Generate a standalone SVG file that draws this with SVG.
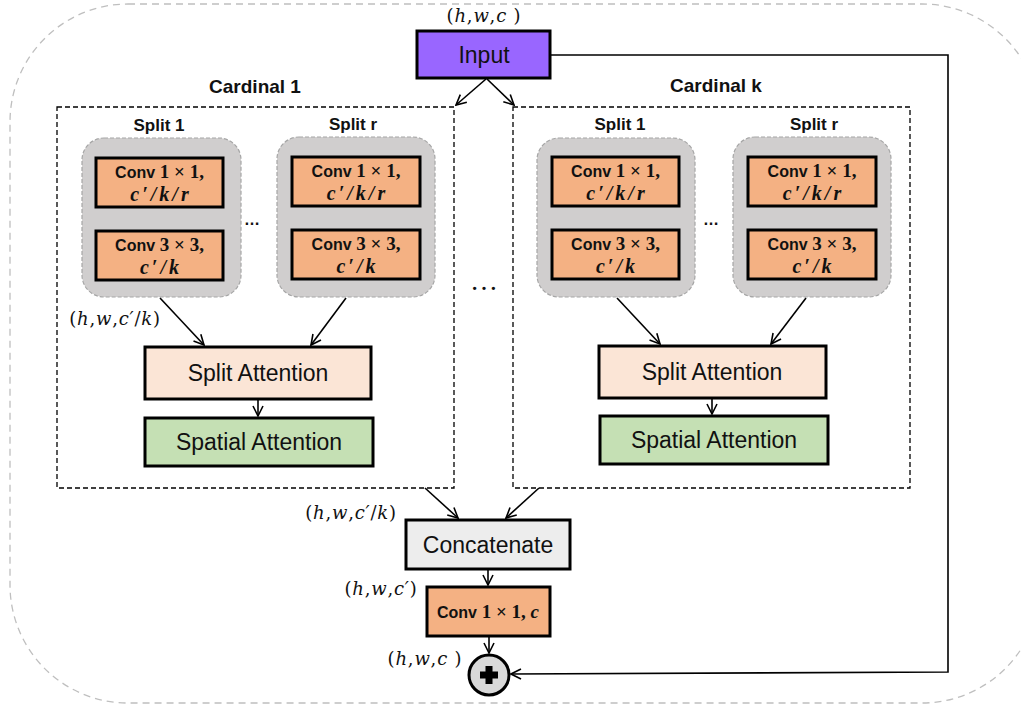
<svg xmlns="http://www.w3.org/2000/svg" width="1021" height="706" viewBox="0 0 1021 706">
  <style>
    .box { stroke: #000; stroke-width: 3; }
    .input { fill: #9966FF; }
    .conv { fill: #F4B183; }
    .sa { fill: #FBE5D6; }
    .spa { fill: #C5E0B4; }
    .cat { fill: #EDEDED; }
    .split { fill: #D0CECE; stroke: #A6A6A6; stroke-width: 1.2; stroke-dasharray: 4 2; }
    .card { fill: none; stroke: #000; stroke-width: 1.3; stroke-dasharray: 5 3; }
    .outer { fill: none; stroke: #BFBFBF; stroke-width: 1.3; stroke-dasharray: 7 5; }
    .lbl { font-family: "Liberation Sans", Arial, sans-serif; font-size: 23px; fill: #111; text-anchor: middle; }
    .title { font-family: "Liberation Sans", Arial, sans-serif; font-size: 19px; font-weight: bold; fill: #111; text-anchor: middle; }
    .stitle { font-family: "Liberation Sans", Arial, sans-serif; font-size: 17px; font-weight: bold; fill: #111; text-anchor: middle; }
    .cv { font-family: "Liberation Sans", Arial, sans-serif; font-size: 16px; font-weight: bold; fill: #111; text-anchor: middle; }
    .num { font-family: "Liberation Serif", "Times New Roman", serif; font-size: 19px; font-weight: bold; }
    .var { font-family: "Liberation Serif", "Times New Roman", serif; font-size: 20px; font-weight: bold; font-style: italic; fill: #111; text-anchor: middle; letter-spacing: 3px; }
    .math { font-family: "DejaVu Serif", serif; font-size: 18px; fill: #111; text-anchor: middle; letter-spacing: 0.8px; }
    .it { font-style: italic; }
    .line { fill: none; stroke: #000; stroke-width: 1.6; }
    .dots { font-family: "Liberation Sans", Arial, sans-serif; font-size: 16px; font-weight: bold; fill: #111; text-anchor: middle; }
  </style>
  <defs>
    <marker id="arrow" viewBox="0 0 12 12" refX="11" refY="6" markerWidth="12" markerHeight="12" markerUnits="userSpaceOnUse" orient="auto">
      <path d="M1,1 L11,6 L1,11" fill="none" stroke="#000" stroke-width="1.6"/>
    </marker>
  </defs>

  <rect width="1021" height="706" fill="#fff"/>

  <!-- outer residual block boundary -->
  <rect class="outer" x="10" y="4" width="1030" height="699" rx="118" ry="118"/>

  <!-- cardinal groups -->
  <g id="cardinal-1">
    <rect class="card" x="57" y="107" width="397" height="381"/>
    <text class="title" x="255" y="93">Cardinal 1</text>
  </g>
  <g id="cardinal-k">
    <rect class="card" x="513" y="107" width="397" height="381"/>
    <text class="title" x="716" y="92">Cardinal k</text>
  </g>

  <!-- input -->
  <g id="input">
    <rect class="box input" x="417" y="31" width="133" height="47"/>
    <text class="lbl" x="484" y="63">Input</text>
    <text class="math" x="484" y="22">(<tspan class="it">h</tspan>,<tspan class="it">w</tspan>,<tspan class="it">c</tspan> )</text>
  </g>

  <!-- cardinal 1, split 1 -->
  <g id="c1-split1">
    <text class="stitle" x="159" y="131">Split 1</text>
    <rect class="split" x="82" y="138" width="159" height="159" rx="22"/>
    <rect class="box conv" x="96" y="158" width="127" height="49"/>
    <text class="cv" x="159.5" y="178">Conv<tspan class="num"> 1 × 1,</tspan></text>
    <text class="var" x="161" y="201">c′/k/r</text>
    <rect class="box conv" x="96" y="231" width="127" height="49"/>
    <text class="cv" x="159.5" y="251">Conv<tspan class="num"> 3 × 3,</tspan></text>
    <text class="var" x="161" y="274">c′/k</text>
  </g>
  <text class="dots" x="252" y="225">…</text>

  <!-- cardinal 1, split r -->
  <g id="c1-splitr">
    <text class="stitle" x="353" y="130">Split r</text>
    <rect class="split" x="277" y="137" width="158" height="160" rx="22"/>
    <rect class="box conv" x="292" y="157" width="128" height="49"/>
    <text class="cv" x="356" y="177">Conv<tspan class="num"> 1 × 1,</tspan></text>
    <text class="var" x="357.5" y="200">c′/k/r</text>
    <rect class="box conv" x="292" y="230" width="128" height="49"/>
    <text class="cv" x="356" y="250">Conv<tspan class="num"> 3 × 3,</tspan></text>
    <text class="var" x="357.5" y="273">c′/k</text>
  </g>

  <g id="c1-split-attention">
    <rect class="box sa" x="145" y="347" width="226" height="52"/>
    <text class="lbl" x="258" y="381">Split Attention</text>
  </g>
  <g id="c1-spatial-attention">
    <rect class="box spa" x="145" y="418" width="228" height="48"/>
    <text class="lbl" x="259" y="450">Spatial Attention</text>
  </g>
  <text class="math" x="115" y="325">(<tspan class="it">h</tspan>,<tspan class="it">w</tspan>,<tspan class="it">c′</tspan>/<tspan class="it">k</tspan>)</text>

  <!-- between cardinals -->
  <text x="484" y="290" font-family="Liberation Serif, serif" font-size="28" fill="#111" text-anchor="middle">…</text>

  <!-- cardinal k, split 1 -->
  <g id="ck-split1">
    <text class="stitle" x="620" y="130">Split 1</text>
    <rect class="split" x="537" y="138" width="158" height="159" rx="22"/>
    <rect class="box conv" x="552" y="157" width="127" height="49"/>
    <text class="cv" x="615.5" y="177">Conv<tspan class="num"> 1 × 1,</tspan></text>
    <text class="var" x="617" y="200">c′/k/r</text>
    <rect class="box conv" x="552" y="230" width="127" height="49"/>
    <text class="cv" x="615.5" y="250">Conv<tspan class="num"> 3 × 3,</tspan></text>
    <text class="var" x="617" y="273">c′/k</text>
  </g>
  <text class="dots" x="711" y="225">…</text>

  <!-- cardinal k, split r -->
  <g id="ck-splitr">
    <text class="stitle" x="814" y="130">Split r</text>
    <rect class="split" x="733" y="137" width="158" height="160" rx="22"/>
    <rect class="box conv" x="748" y="157" width="128" height="49"/>
    <text class="cv" x="812" y="177">Conv<tspan class="num"> 1 × 1,</tspan></text>
    <text class="var" x="813.5" y="200">c′/k/r</text>
    <rect class="box conv" x="748" y="230" width="128" height="49"/>
    <text class="cv" x="812" y="250">Conv<tspan class="num"> 3 × 3,</tspan></text>
    <text class="var" x="813.5" y="273">c′/k</text>
  </g>

  <g id="ck-split-attention">
    <rect class="box sa" x="599" y="346" width="227" height="52"/>
    <text class="lbl" x="712" y="380">Split Attention</text>
  </g>
  <g id="ck-spatial-attention">
    <rect class="box spa" x="600" y="416" width="228" height="48"/>
    <text class="lbl" x="714" y="448">Spatial Attention</text>
  </g>

  <!-- merge path -->
  <g id="concatenate">
    <rect class="box cat" x="406" y="520" width="164" height="49"/>
    <text class="lbl" x="488" y="553">Concatenate</text>
    <text class="math" x="351" y="519">(<tspan class="it">h</tspan>,<tspan class="it">w</tspan>,<tspan class="it">c′</tspan>/<tspan class="it">k</tspan>)</text>
  </g>
  <g id="conv-out">
    <rect class="box conv" x="427" y="587" width="123" height="49"/>
    <text class="cv" x="488" y="618">Conv<tspan class="num"> 1 × 1, </tspan><tspan class="num" font-style="italic" font-size="20">c</tspan></text>
    <text class="math" x="381" y="595">(<tspan class="it">h</tspan>,<tspan class="it">w</tspan>,<tspan class="it">c′</tspan>)</text>
  </g>
  <g id="add">
    <circle cx="489" cy="675" r="20" fill="#D9D9D9" stroke="#000" stroke-width="3"/>
    <path d="M485.5,666 h7 v5.5 h5.5 v7 h-5.5 v5.5 h-7 v-5.5 h-5.5 v-7 h5.5 z" fill="#000"/>
    <text class="math" x="425" y="665">(<tspan class="it">h</tspan>,<tspan class="it">w</tspan>,<tspan class="it">c</tspan> )</text>
  </g>

  <!-- connectors -->
  <g id="connectors" class="line">
    <line x1="486" y1="79" x2="456" y2="105" marker-end="url(#arrow)"/>
    <line x1="487" y1="79" x2="514" y2="105" marker-end="url(#arrow)"/>
    <polyline points="550,55 948,55 948,672 511,674" marker-end="url(#arrow)"/>

    <line x1="160" y1="298" x2="204" y2="345" marker-end="url(#arrow)"/>
    <line x1="346" y1="298" x2="311" y2="345" marker-end="url(#arrow)"/>
    <line x1="258" y1="400" x2="258" y2="416" marker-end="url(#arrow)"/>

    <line x1="617" y1="298" x2="660" y2="344" marker-end="url(#arrow)"/>
    <line x1="806" y1="298" x2="771" y2="344" marker-end="url(#arrow)"/>
    <line x1="712" y1="399" x2="712" y2="414" marker-end="url(#arrow)"/>

    <line x1="425" y1="488" x2="458" y2="518" marker-end="url(#arrow)"/>
    <line x1="539" y1="488" x2="506" y2="518" marker-end="url(#arrow)"/>
    <line x1="488" y1="570" x2="488" y2="585" marker-end="url(#arrow)"/>
    <line x1="489" y1="637" x2="489" y2="653" marker-end="url(#arrow)"/>
  </g>
</svg>
